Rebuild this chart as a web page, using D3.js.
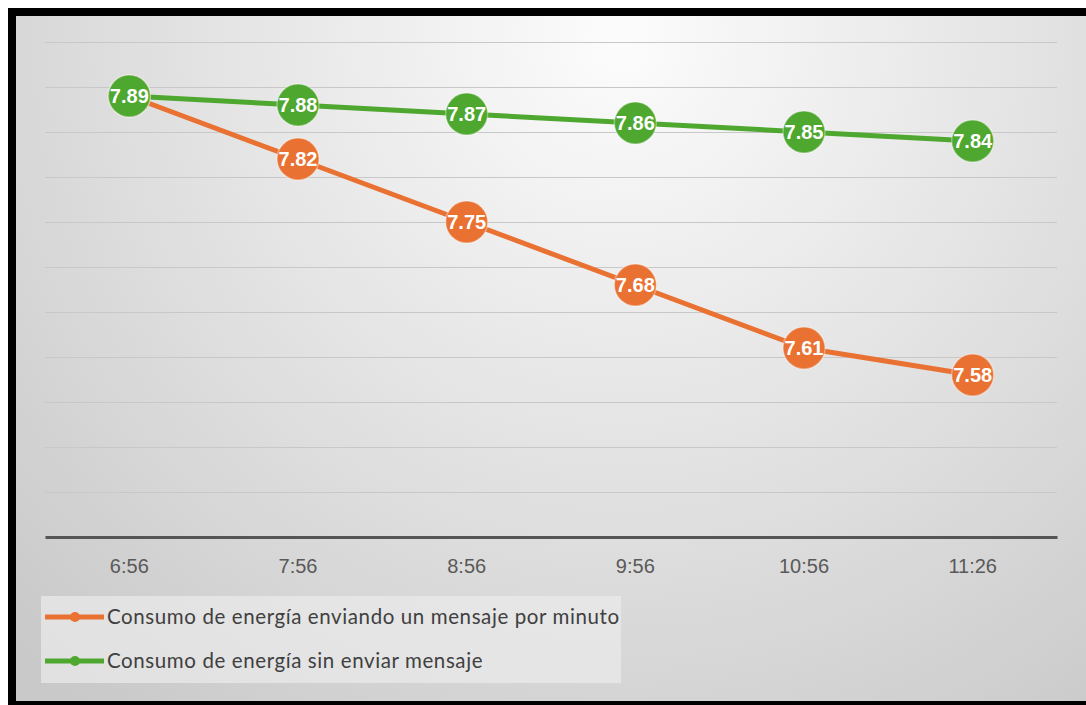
<!DOCTYPE html>
<html><head><meta charset="utf-8">
<script src="https://cdn.jsdelivr.net/npm/d3@7"></script>
<style>html,body{margin:0;padding:0;background:#fff;overflow:hidden}</style>
</head><body>
<script>
const categories = ["6:56","7:56","8:56","9:56","10:56","11:26"];
const seriesNames = ["Consumo de energía enviando un mensaje por minuto","Consumo de energía sin enviar mensaje"];
const sendingValues = [7.89,7.82,7.75,7.68,7.61,7.58];
const idleValues = [7.89,7.88,7.87,7.86,7.85,7.84];
const gridTicks = [7.40,7.45,7.50,7.55,7.60,7.65,7.70,7.75,7.80,7.85,7.90,7.95];
const colors = ["#E97132","#4EA72E"];

(function(){
const W=1086,H=705;
const svg=d3.select("body").append("svg").attr("width",W).attr("height",H);
const defs=svg.append("defs");
const rg=defs.append("radialGradient").attr("id","bg").attr("gradientUnits","userSpaceOnUse")
  .attr("cx",620).attr("cy",40).attr("r",850);
rg.append("stop").attr("offset","0").attr("stop-color","#fcfcfc");
rg.append("stop").attr("offset","0.55").attr("stop-color","#e0e0e0");
rg.append("stop").attr("offset","1").attr("stop-color","#c9c9c9");

svg.append("rect").attr("x",8).attr("y",8).attr("width",W).attr("height",H).attr("fill","#000");
svg.append("rect").attr("x",16).attr("y",16).attr("width",W-16).attr("height",701-16).attr("fill","url(#bg)");

const pL=45,pR=1057,pT=42,pB=537;
const x=d3.scaleBand().domain(categories).range([pL,pR]);
const y=d3.scaleLinear().domain([7.40,7.95]).range([pB,pT]);

svg.append("g").selectAll("line").data(gridTicks.slice(1)).join("line")
  .attr("x1",pL).attr("x2",pR).attr("y1",d=>Math.round(y(d))+0.5).attr("y2",d=>Math.round(y(d))+0.5)
  .attr("stroke","#c8c8c8").attr("stroke-width",1);

const xAxis=svg.append("g").attr("transform",`translate(0,${pB})`).call(d3.axisBottom(x).tickSize(0).tickPadding(22));
xAxis.attr("font-size",null).attr("font-family",null);
xAxis.select(".domain").attr("stroke","#555").attr("stroke-width",3);
xAxis.selectAll("text").style("font-family","'Liberation Sans', Arial, sans-serif").style("font-size","20px").attr("fill","#595959");

const series=[sendingValues,idleValues];
const line=d3.line().x((d,i)=>x(categories[i])+x.bandwidth()/2).y(d=>y(d));
series.forEach((vals,si)=>{
  svg.append("path").datum(vals).attr("d",line).attr("fill","none")
    .attr("stroke",colors[si]).attr("stroke-width",5).attr("stroke-linejoin","round");
});
series.forEach((vals,si)=>{
  const g=svg.append("g");
  const pts=g.selectAll("g").data(vals).join("g")
    .attr("transform",(d,i)=>`translate(${x(categories[i])+x.bandwidth()/2},${y(d)})`);
  pts.append("circle").attr("r",21).attr("fill",colors[si]).attr("stroke","rgba(255,255,255,0.35)").attr("stroke-width",1.5);
  pts.append("text").text(d=>d.toFixed(2)).attr("text-anchor","middle").attr("dy","0.36em")
    .style("font-family","'Liberation Sans', Arial, sans-serif").style("font-weight","bold").style("font-size","20px").attr("fill","#fff");
});

svg.append("rect").attr("x",41).attr("y",596).attr("width",580).attr("height",87).attr("fill","#ebebeb").attr("opacity",0.7);
const lg=svg.append("g").selectAll("g").data(seriesNames).join("g").attr("transform",(d,i)=>`translate(0,${617+i*44})`);
lg.append("line").attr("x1",45).attr("x2",104).attr("stroke",(d,i)=>colors[i]).attr("stroke-width",5);
lg.append("circle").attr("cx",75).attr("r",5).attr("fill",(d,i)=>colors[i]);
lg.append("text").text(d=>d).attr("x",107).attr("dy","0.35em").style("font-family","Lato, sans-serif")
  .style("font-size","20.5px").style("letter-spacing","0.6px").attr("fill","#404040");
})();
</script>
</body></html>
